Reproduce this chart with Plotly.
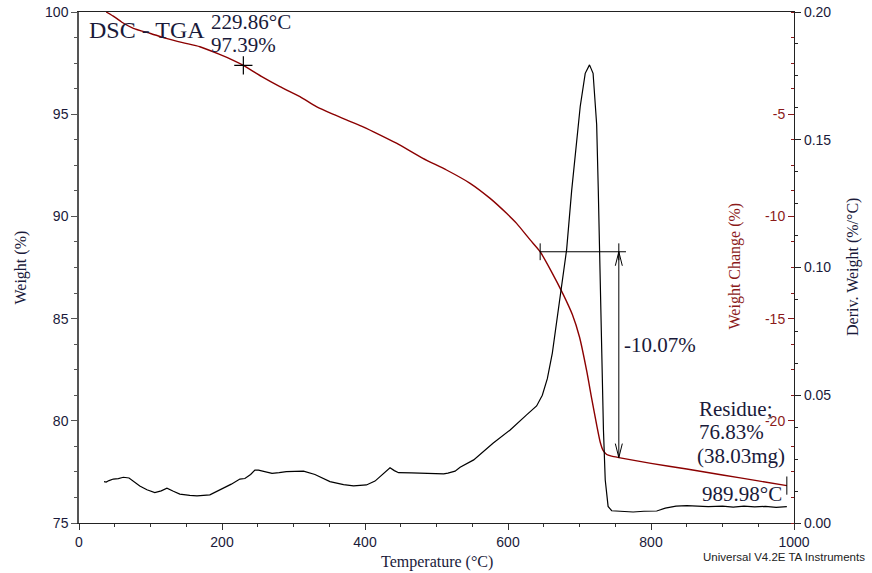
import plotly.graph_objects as go

# ---- TGA weight curve (Weight %, left axis) ----
tga_temp = [38, 50, 60, 76, 100, 122, 145, 169, 195, 215, 230, 255, 281, 309, 332,
            355, 374, 395, 412, 444, 481, 514, 547, 575, 598, 612, 631, 645, 660,
            677, 690, 700, 710, 717, 724, 729, 733, 738, 745, 755, 800, 850, 900,
            950, 989.98]
tga_weight = [100.0, 99.75, 99.5, 99.2, 98.95, 98.71, 98.5, 98.3, 97.95, 97.65, 97.39,
              96.85, 96.35, 95.86, 95.37, 95.0, 94.72, 94.42, 94.14, 93.58, 92.84,
              92.27, 91.62, 90.88, 90.15, 89.66, 88.85, 88.27, 87.35, 86.2, 85.2,
              84.1, 82.45, 81.1, 79.8, 78.95, 78.55, 78.35, 78.27, 78.2, 77.92,
              77.64, 77.35, 77.06, 76.83]

# ---- DTG curve (Deriv. Weight %/°C, outer right axis) ----
dtg_temp = [35, 38, 42, 48, 55, 62, 70, 85, 95, 106, 115, 123, 132, 141, 155, 165,
            183, 200, 213, 225, 232, 240, 246, 251, 260, 270, 280, 290, 314, 330,
            351, 370, 384, 402, 414, 425, 435, 441, 447, 465, 482, 500, 510, 516,
            526, 533, 552, 579, 603, 626, 640, 648, 655, 662, 670, 677, 682, 689,
            695, 701, 708, 714, 719, 724, 726.3, 727.7, 728.7, 731, 733.5, 736,
            740, 745, 760, 775, 790, 808, 820, 835, 850, 865, 880, 900, 915, 930,
            945, 960, 975, 990]
dtg_deriv = [0.0162, 0.0160, 0.0166, 0.0172, 0.0174, 0.0179, 0.0176, 0.0145, 0.0130,
             0.0119, 0.0126, 0.0136, 0.0124, 0.0113, 0.0108, 0.0106, 0.0110, 0.0132,
             0.0152, 0.0172, 0.0174, 0.0190, 0.0207, 0.0207, 0.0200, 0.0194, 0.0197,
             0.0201, 0.0203, 0.0190, 0.0162, 0.0150, 0.0145, 0.0149, 0.0164, 0.0190,
             0.0216, 0.0205, 0.0197, 0.0196, 0.0195, 0.0193, 0.0192, 0.0195, 0.0203,
             0.0218, 0.0247, 0.0312, 0.0364, 0.0423, 0.0458, 0.0500, 0.0565, 0.0665,
             0.0820, 0.0960, 0.1070, 0.1300, 0.1460, 0.1630, 0.1760, 0.1793, 0.1760,
             0.1560, 0.1300, 0.1120, 0.0886, 0.0626, 0.0364, 0.0168, 0.0065, 0.0048,
             0.0045, 0.0043, 0.0046, 0.0047, 0.0058, 0.0066, 0.0068, 0.0066, 0.0064,
             0.0066, 0.0062, 0.0066, 0.0063, 0.0065, 0.0061, 0.0064]

# ---- analysis markers ----
onset_T, onset_W = 229.86, 97.39
step_T0, step_W0 = 645, 88.27
step_change = -10.07
step_W1 = round(step_W0 + step_change, 2)
step_arrow_T = 755
step_line_end_T = 765
residue_T, residue_W = 989.98, 76.83
residue_mg = 38.03

x_ticks = [0, 200, 400, 600, 800, 1000]
weight_ticks = [75, 80, 85, 90, 95, 100]
change_ticks = [-20, -15, -10, -5]
deriv_ticks = [0.0, 0.05, 0.10, 0.15, 0.20]

SERIF = "Liberation Serif, Times New Roman, serif"
SANS = "Liberation Sans, Arial, sans-serif"
RED = "#8B0000"
RED_TXT = "#8B1A1A"
INK = "#1a1a3a"

fig = go.Figure()

fig.add_trace(go.Scatter(x=tga_temp, y=tga_weight, mode="lines",
                         line=dict(color=RED, width=1.4, shape="spline", smoothing=0.6),
                         yaxis="y", showlegend=False, hoverinfo="skip"))
# weight change (%) shares the same data, shown on the inner right axis
fig.add_trace(go.Scatter(x=tga_temp, y=[w - 100 for w in tga_weight], mode="lines",
                         line=dict(color=RED, width=0), opacity=0, yaxis="y2",
                         showlegend=False, hoverinfo="skip"))
fig.add_trace(go.Scatter(x=dtg_temp, y=dtg_deriv, mode="lines",
                         line=dict(color="black", width=1.2), yaxis="y3",
                         showlegend=False, hoverinfo="skip"))

# onset cross
fig.add_trace(go.Scatter(x=[onset_T], y=[onset_W], mode="markers", yaxis="y",
                         marker=dict(symbol="cross-thin", size=13,
                                     line=dict(width=1.2, color="black")),
                         showlegend=False, hoverinfo="skip", cliponaxis=False))
# step: horizontal reference line and vertical arrow
fig.add_trace(go.Scatter(x=[step_T0, step_line_end_T], y=[step_W0, step_W0],
                         mode="lines", line=dict(color="black", width=1), yaxis="y",
                         showlegend=False, hoverinfo="skip"))
fig.add_trace(go.Scatter(x=[step_arrow_T, step_arrow_T], y=[step_W0, step_W1],
                         mode="lines", line=dict(color="black", width=1), yaxis="y",
                         showlegend=False, hoverinfo="skip"))
fig.add_trace(go.Scatter(x=[step_T0, step_arrow_T], y=[step_W0, step_W0],
                         mode="markers", yaxis="y",
                         marker=dict(symbol="line-ns", size=12,
                                     line=dict(width=1, color="black")),
                         showlegend=False, hoverinfo="skip"))
# residue end tick
fig.add_trace(go.Scatter(x=[residue_T], y=[residue_W], mode="markers", yaxis="y",
                         marker=dict(symbol="line-ns", size=13,
                                     line=dict(width=1, color="black")),
                         showlegend=False, hoverinfo="skip", cliponaxis=False))

# open arrowheads at both ends of the step arrow
shapes = [
    dict(type="path", xref="x", yref="y", xsizemode="pixel", ysizemode="pixel",
         xanchor=step_arrow_T, yanchor=step_W1, path="M-3.5,14 L0,0 L3.5,14",
         line=dict(color="black", width=1)),
    dict(type="path", xref="x", yref="y", xsizemode="pixel", ysizemode="pixel",
         xanchor=step_arrow_T, yanchor=step_W0, path="M-3.5,-14 L0,0 L3.5,-14",
         line=dict(color="black", width=1)),
]

def label(text, x, y, size=21, color=INK, xanchor="left"):
    return dict(text=text, x=x, y=y, xref="x", yref="y", showarrow=False,
                xanchor=xanchor, yanchor="middle",
                font=dict(family=SERIF, size=size, color=color))

annotations = [
    label("DSC - TGA", 11, 99.12, size=24),
    label(f"{onset_T:.2f}°C", 182, 99.5),
    label(f"{onset_W:.2f}%", 182, 98.38),
    label(f"{step_change:.2f}%", 760, 83.7),
    label("Residue;", 864, 80.6),
    label(f"{residue_W:.2f}%", 864, 79.45),
    label(f"({residue_mg:.2f}mg)", 862, 78.27),
    label(f"{residue_T:.2f}°C", 868, 76.4),
    dict(text="Weight (%)", x=-0.0825, y=0.5, xref="paper", yref="paper",
         showarrow=False, textangle=-90, xanchor="center", yanchor="middle",
         font=dict(family=SERIF, size=16, color=INK)),
    dict(text="Weight Change (%)", x=0.9175, y=0.502, xref="paper", yref="paper",
         showarrow=False, textangle=-90, xanchor="center", yanchor="middle",
         font=dict(family=SERIF, size=16, color=RED_TXT)),
    dict(text="Deriv. Weight (%/°C)", x=1.0825, y=0.501, xref="paper", yref="paper",
         showarrow=False, textangle=-90, xanchor="center", yanchor="middle",
         font=dict(family=SERIF, size=16, color=INK)),
    dict(text="Temperature (°C)", x=0.5007, y=-0.0763, xref="paper", yref="paper",
         showarrow=False, xanchor="center", yanchor="middle",
         font=dict(family=SERIF, size=16, color=INK)),
    dict(text="Universal V4.2E TA Instruments", x=0.986, y=-0.0665, xref="paper",
         yref="paper", showarrow=False, xanchor="center", yanchor="middle",
         font=dict(family=SANS, size=11.5, color="#222")),
]

tick_font = dict(family=SANS, size=14, color=INK)

fig.update_layout(
    width=872, height=573,
    margin=dict(l=79, r=78, t=12, b=50, autoexpand=False),
    paper_bgcolor="white", plot_bgcolor="white",
    showlegend=False,
    shapes=shapes,
    annotations=annotations,
    xaxis=dict(range=[0, 1000], tickmode="array", tickvals=x_ticks,
               ticktext=[str(v) for v in x_ticks], automargin=False,
               ticks="outside", ticklen=6, tickcolor="#333", tickfont=tick_font,
               showline=True, linecolor="#222", linewidth=1, mirror=True,
               showgrid=False, zeroline=False,
               minor=dict(dtick=50, tick0=0, ticks="outside", ticklen=3,
                          tickcolor="#333")),
    yaxis=dict(range=[75, 100], tickmode="array", tickvals=weight_ticks,
               ticktext=[str(v) for v in weight_ticks], automargin=False,
               ticks="outside", ticklen=6, tickcolor="#555", tickfont=tick_font,
               showline=True, linecolor="#555", linewidth=1.5,
               showgrid=False, zeroline=False,
               minor=dict(dtick=1.25, tick0=75, ticks="outside", ticklen=3,
                          tickcolor="#555")),
    # weight-change axis sits on the right frame edge, labels facing inward
    yaxis2=dict(range=[-25, 0], overlaying="y", side="left", anchor="free",
                position=1,
                tickmode="array", tickvals=change_ticks,
                ticktext=[str(v) for v in change_ticks], automargin=False,
                ticks="outside", ticklen=6,
                tickcolor=RED_TXT, tickfont=dict(family=SANS, size=14, color=RED_TXT),
                showline=False, showgrid=False, zeroline=False,
                minor=dict(dtick=1.25, tick0=0, ticks="outside", ticklen=3,
                           tickcolor=RED_TXT)),
    yaxis3=dict(range=[0, 0.2], overlaying="y", side="right", anchor="x",
                tickmode="array", tickvals=deriv_ticks,
                ticktext=[f"{v:.2f}" for v in deriv_ticks], automargin=False,
                ticks="outside", ticklen=6, tickcolor="#222", tickfont=tick_font,
                showline=True, linecolor="#222", linewidth=1.2,
                showgrid=False, zeroline=False,
                minor=dict(dtick=0.0125, tick0=0, ticks="outside", ticklen=3,
                           tickcolor="#222")),
)

fig.write_html("out.html")
